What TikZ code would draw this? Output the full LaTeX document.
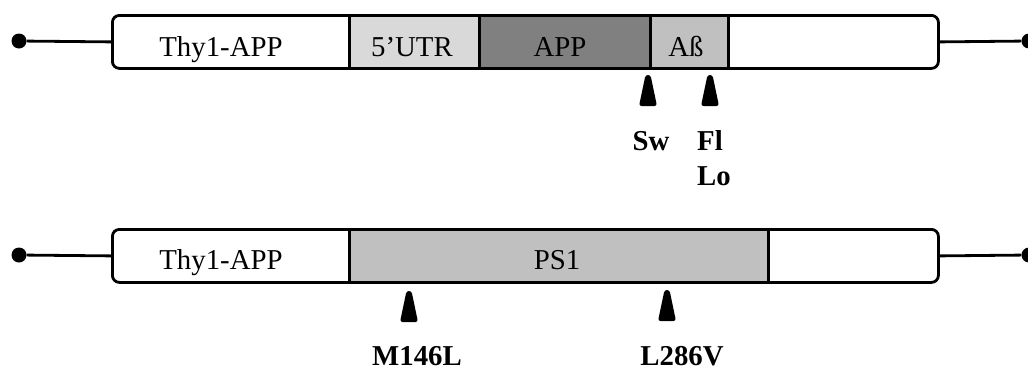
\documentclass[tikz,border=0pt]{standalone}
\usepackage{fontspec}
\setmainfont{Liberation Serif}
\definecolor{utrgray}{HTML}{D9D9D9}
\definecolor{appgray}{HTML}{808080}
\definecolor{abgray}{HTML}{C0C0C0}
\begin{document}
\begin{tikzpicture}[x=1pt,y=-1pt,
  every node/.style={font=\fontsize{28.8}{34}\selectfont},
  outerbox/.style={draw, line width=2.8pt, rounded corners=7pt, inner sep=0pt, minimum height=53pt, fill=white},
  seg/.style={draw, line width=2.8pt, inner sep=0pt, minimum height=53pt, anchor=north west},
  lbl/.style={anchor=base, inner sep=0pt},
  mutlbl/.style={anchor=base, inner sep=0pt, font=\fontsize{28.8}{34}\selectfont\bfseries},
  enddot/.style={circle, fill=black, inner sep=0pt, minimum size=15pt},
  wire/.style={line width=2.8pt},
  mut/.pic={\fill[rounded corners=2.5pt] (-2.5,0) -- (2.5,0) -- (9,31) -- (-9,31) -- cycle;}
]
\useasboundingbox (0,0) rectangle (1028,370);
% ---------- top construct ----------
\node[enddot] (dl1) at (19,41) {};
\node[enddot] (dr1) at (1029,41) {};
\node[outerbox, minimum width=826pt, anchor=north west] (box1) at (111,14) {};
\draw[wire] (dl1) -- (box1.west);
\draw[wire] (box1.east) -- (dr1);
\node[seg, fill=utrgray, minimum width=130pt] (utr) at (348,14) {};
\node[seg, fill=appgray, minimum width=171pt] (app) at (478,14) {};
\node[seg, fill=abgray, minimum width=78pt] (ab) at (649,14) {};
\node[lbl] (t1) at (221,56) {Thy1-APP};
\node[lbl] (tutr) at (412,56) {5’UTR};
\node[lbl] (tapp) at (560,56) {APP};
\node[lbl] (tab) at (686,56) {Aß};
\pic at (648,75) {mut};
\pic at (710,75) {mut};
\node[mutlbl] (sw) at (651,150) {Sw};
\node[mutlbl, anchor=base west] (fl) at (697,150) {Fl};
\node[mutlbl, anchor=base west] (lo) at (697,185) {Lo};
% ---------- bottom construct ----------
\node[enddot] (dl2) at (19,255) {};
\node[enddot] (dr2) at (1029,255) {};
\node[outerbox, minimum width=826pt, anchor=north west] (box2) at (111,228) {};
\draw[wire] (dl2) -- (box2.west);
\draw[wire] (box2.east) -- (dr2);
\node[seg, fill=abgray, minimum width=419pt] (ps1) at (348,228) {};
\node[lbl] (t2) at (221,269) {Thy1-APP};
\node[lbl] (tps1) at (557,269) {PS1};
\pic at (409,291) {mut};
\pic at (667,290) {mut};
\node[mutlbl] (m146) at (417,365) {M146L};
\node[mutlbl] (l286) at (682,365) {L286V};
\end{tikzpicture}
\end{document}
